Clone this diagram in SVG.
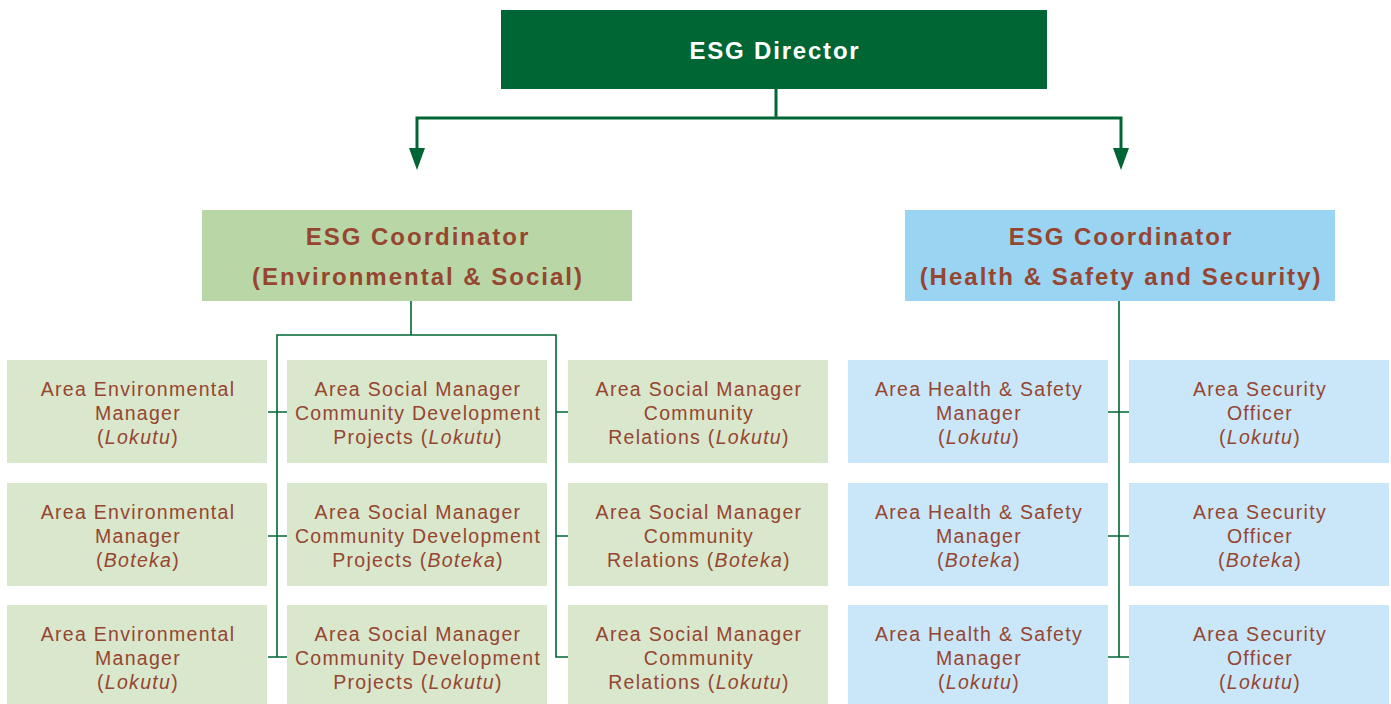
<svg xmlns="http://www.w3.org/2000/svg" width="1391" height="704" viewBox="0 0 1391 704">
<style>
.t{font-family:"Liberation Sans",Arial,sans-serif;font-size:19.5px;letter-spacing:1.3px;fill:#964530;text-anchor:middle}
.i{font-style:italic}
.ct{font-family:"Liberation Sans",Arial,sans-serif;font-size:24px;font-weight:bold;letter-spacing:2px;fill:#964530;text-anchor:middle}
.g{fill:#d9e7cc}
.b{fill:#c9e7f8}
.c{fill:none;stroke:#006633;stroke-width:1.6}
.m{fill:none;stroke:#006633;stroke-width:3}
.ah{fill:#006633}
</style>
<g id="director">
<rect x="501" y="10" width="546" height="79" fill="#006633"/>
<text x="775" y="59" style="font-family:'Liberation Sans',Arial,sans-serif;font-size:24px;font-weight:bold;letter-spacing:1.8px;fill:#ffffff;text-anchor:middle">ESG Director</text>
</g>
<g id="coord-es">
<rect x="202" y="210" width="430" height="91" fill="#b9d7a6"/>
<text class="ct" x="418" y="245">ESG Coordinator</text>
<text class="ct" x="418" y="285">(Environmental &amp; Social)</text>
</g>
<g id="coord-hss">
<rect x="905" y="210" width="430" height="91" fill="#99d4f3"/>
<text class="ct" x="1121" y="245">ESG Coordinator</text>
<text class="ct" x="1121" y="285">(Health &amp; Safety and Security)</text>
</g>
<g id="connectors">
<path class="m" d="M776,89 V118"/>
<path class="m" d="M417,148 V118 H1121 V148"/>
<path class="ah" d="M409,148 L425,148 L417,170 Z"/>
<path class="ah" d="M1113,148 L1129,148 L1121,170 Z"/>
<path class="c" d="M411,301 V335 M277,657 V335 H556 V657 H568"/>
<path class="c" d="M268,412 H287 M268,536 H287 M268,657 H287 M556,412 H568 M556,536 H568"/>
<path class="c" d="M1119,301 V657 M1108,412 H1129 M1108,536 H1129 M1108,657 H1129"/>
</g>
<g id="env-1"><rect class="g" x="7" y="360" width="260" height="103"/><text class="t" x="138" y="396">Area Environmental</text><text class="t" x="138" y="420">Manager</text><text class="t" x="138" y="444">(<tspan class="i">Lokutu</tspan>)</text></g>
<g id="env-2"><rect class="g" x="7" y="483" width="260" height="103"/><text class="t" x="138" y="519">Area Environmental</text><text class="t" x="138" y="543">Manager</text><text class="t" x="138" y="567">(<tspan class="i">Boteka</tspan>)</text></g>
<g id="env-3"><rect class="g" x="7" y="605" width="260" height="99"/><text class="t" x="138" y="641">Area Environmental</text><text class="t" x="138" y="665">Manager</text><text class="t" x="138" y="689">(<tspan class="i">Lokutu</tspan>)</text></g>
<g id="cdp-1"><rect class="g" x="287" y="360" width="260" height="103"/><text class="t" x="418" y="396">Area Social Manager</text><text class="t" x="418" y="420">Community Development</text><text class="t" x="418" y="444">Projects (<tspan class="i">Lokutu</tspan>)</text></g>
<g id="cdp-2"><rect class="g" x="287" y="483" width="260" height="103"/><text class="t" x="418" y="519">Area Social Manager</text><text class="t" x="418" y="543">Community Development</text><text class="t" x="418" y="567">Projects (<tspan class="i">Boteka</tspan>)</text></g>
<g id="cdp-3"><rect class="g" x="287" y="605" width="260" height="99"/><text class="t" x="418" y="641">Area Social Manager</text><text class="t" x="418" y="665">Community Development</text><text class="t" x="418" y="689">Projects (<tspan class="i">Lokutu</tspan>)</text></g>
<g id="cr-1"><rect class="g" x="568" y="360" width="260" height="103"/><text class="t" x="699" y="396">Area Social Manager</text><text class="t" x="699" y="420">Community</text><text class="t" x="699" y="444">Relations (<tspan class="i">Lokutu</tspan>)</text></g>
<g id="cr-2"><rect class="g" x="568" y="483" width="260" height="103"/><text class="t" x="699" y="519">Area Social Manager</text><text class="t" x="699" y="543">Community</text><text class="t" x="699" y="567">Relations (<tspan class="i">Boteka</tspan>)</text></g>
<g id="cr-3"><rect class="g" x="568" y="605" width="260" height="99"/><text class="t" x="699" y="641">Area Social Manager</text><text class="t" x="699" y="665">Community</text><text class="t" x="699" y="689">Relations (<tspan class="i">Lokutu</tspan>)</text></g>
<g id="hs-1"><rect class="b" x="848" y="360" width="260" height="103"/><text class="t" x="979" y="396">Area Health &amp; Safety</text><text class="t" x="979" y="420">Manager</text><text class="t" x="979" y="444">(<tspan class="i">Lokutu</tspan>)</text></g>
<g id="hs-2"><rect class="b" x="848" y="483" width="260" height="103"/><text class="t" x="979" y="519">Area Health &amp; Safety</text><text class="t" x="979" y="543">Manager</text><text class="t" x="979" y="567">(<tspan class="i">Boteka</tspan>)</text></g>
<g id="hs-3"><rect class="b" x="848" y="605" width="260" height="99"/><text class="t" x="979" y="641">Area Health &amp; Safety</text><text class="t" x="979" y="665">Manager</text><text class="t" x="979" y="689">(<tspan class="i">Lokutu</tspan>)</text></g>
<g id="sec-1"><rect class="b" x="1129" y="360" width="260" height="103"/><text class="t" x="1260" y="396">Area Security</text><text class="t" x="1260" y="420">Officer</text><text class="t" x="1260" y="444">(<tspan class="i">Lokutu</tspan>)</text></g>
<g id="sec-2"><rect class="b" x="1129" y="483" width="260" height="103"/><text class="t" x="1260" y="519">Area Security</text><text class="t" x="1260" y="543">Officer</text><text class="t" x="1260" y="567">(<tspan class="i">Boteka</tspan>)</text></g>
<g id="sec-3"><rect class="b" x="1129" y="605" width="260" height="99"/><text class="t" x="1260" y="641">Area Security</text><text class="t" x="1260" y="665">Officer</text><text class="t" x="1260" y="689">(<tspan class="i">Lokutu</tspan>)</text></g>
</svg>
